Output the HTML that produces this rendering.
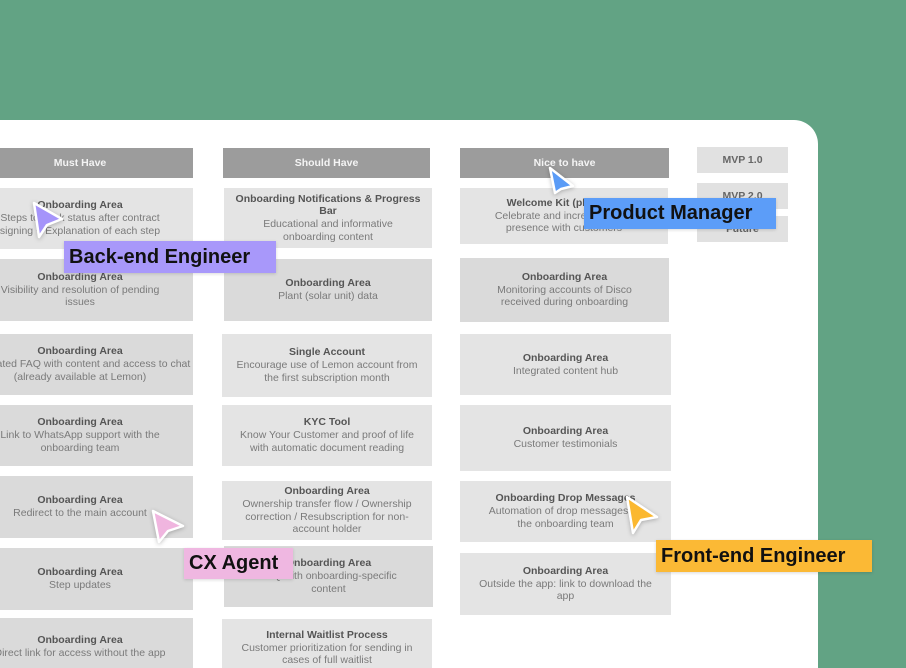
<!DOCTYPE html>
<html><head><meta charset="utf-8"><style>
*{margin:0;padding:0;box-sizing:border-box}
html,body{width:906px;height:668px;overflow:hidden}
body{background:#62a384;position:relative;font-family:"Liberation Sans",sans-serif}
.card{position:absolute;left:-40px;top:120px;width:858px;height:548px;background:#fff;border-radius:0 24px 0 0}
.h{position:absolute;background:#9c9c9c;color:#f4f4f4;font-size:10.5px;font-weight:bold;display:flex;align-items:center;justify-content:center;height:30px}
.b{position:absolute;display:flex;flex-direction:column;align-items:center;justify-content:center;text-align:center;font-size:10.5px;line-height:12.7px;color:#7a7a7a;white-space:nowrap;overflow:hidden}
.b b{color:#555}
.d{background:#dadada}.l{background:#e4e4e4}
.m{position:absolute;left:697px;width:91px;height:26px;background:#e1e1e1;color:#666;font-size:10.5px;font-weight:bold;display:flex;align-items:center;justify-content:center}
.lab{position:absolute;font-size:20px;font-weight:bold;color:#111;display:flex;align-items:center;padding-left:5px;white-space:nowrap;box-shadow:0 1px 3px rgba(0,0,0,.15)}
svg{position:absolute;overflow:visible}
</style></head><body>
<div class="card"></div>
<div class="h" style="left:-33px;width:226px;top:148px">Must Have</div>
<div class="h" style="left:223px;width:207px;top:148px">Should Have</div>
<div class="h" style="left:460px;width:209px;top:148px">Nice to have</div>
<div class="m" style="top:147px">MVP 1.0</div>
<div class="m" style="top:183px">MVP 2.0</div>
<div class="m" style="top:216px">Future</div>

<div class="b l" style="left:-33px;width:226px;top:188px;height:61px"><b>Onboarding Area</b>Steps to track status after contract<br>signing + Explanation of each step</div>
<div class="b d" style="left:-33px;width:226px;top:259px;height:62px"><b>Onboarding Area</b>Visibility and resolution of pending<br>issues</div>
<div class="b d" style="left:-33px;width:226px;top:334px;height:61px"><b>Onboarding Area</b>Integrated FAQ with content and access to chat<br>(already available at Lemon)</div>
<div class="b d" style="left:-33px;width:226px;top:405px;height:61px"><b>Onboarding Area</b>Link to WhatsApp support with the<br>onboarding team</div>
<div class="b d" style="left:-33px;width:226px;top:476px;height:62px"><b>Onboarding Area</b>Redirect to the main account</div>
<div class="b d" style="left:-33px;width:226px;top:548px;height:62px"><b>Onboarding Area</b>Step updates</div>
<div class="b d" style="left:-33px;width:226px;top:618px;height:62px;justify-content:flex-start;padding-top:16px"><b>Onboarding Area</b>Direct link for access without the app</div>

<div class="b l" style="left:224px;width:208px;top:188px;height:60px"><b>Onboarding Notifications &amp; Progress<br>Bar</b>Educational and informative<br>onboarding content</div>
<div class="b d" style="left:224px;width:208px;top:259px;height:62px"><b>Onboarding Area</b>Plant (solar unit) data</div>
<div class="b l" style="left:222px;width:210px;top:334px;height:63px"><b>Single Account</b>Encourage use of Lemon account from<br>the first subscription month</div>
<div class="b l" style="left:222px;width:210px;top:405px;height:61px"><b>KYC Tool</b>Know Your Customer and proof of life<br>with automatic document reading</div>
<div class="b l" style="left:222px;width:210px;top:481px;height:59px"><b>Onboarding Area</b>Ownership transfer flow / Ownership<br>correction / Resubscription for non-<br>account holder</div>
<div class="b d" style="left:224px;width:209px;top:546px;height:61px"><b>Onboarding Area</b>FAQ with onboarding-specific<br>content</div>
<div class="b l" style="left:222px;width:210px;top:619px;height:61px;justify-content:flex-start;padding-top:10px"><b>Internal Waitlist Process</b>Customer prioritization for sending in<br>cases of full waitlist</div>

<div class="b l" style="left:460px;width:208px;top:188px;height:56px"><b>Welcome Kit (physical)</b>Celebrate and increase brand<br>presence with customers</div>
<div class="b d" style="left:460px;width:209px;top:258px;height:64px"><b>Onboarding Area</b>Monitoring accounts of Disco<br>received during onboarding</div>
<div class="b l" style="left:460px;width:211px;top:334px;height:61px"><b>Onboarding Area</b>Integrated content hub</div>
<div class="b l" style="left:460px;width:211px;top:405px;height:66px"><b>Onboarding Area</b>Customer testimonials</div>
<div class="b l" style="left:460px;width:211px;top:481px;height:61px"><b>Onboarding Drop Messages</b>Automation of drop messages by<br>the onboarding team</div>
<div class="b l" style="left:460px;width:211px;top:553px;height:62px"><b>Onboarding Area</b>Outside the app: link to download the<br>app</div>

<svg style="left:0;top:0" width="906" height="668">
<g stroke="#fff" stroke-width="2.5" stroke-linejoin="round" style="filter:drop-shadow(0 1px 2px rgba(0,0,0,.25))">
<polygon points="34,203 62,219 47,225 39,237" fill="#a594fa"/>
<polygon points="550,168 573,186 561,189 555,193" fill="#5a9bf6"/>
<polygon points="153,511 183,526 168,531 159,542" fill="#f0b5df"/>
<polygon points="627,497 657,517 641,520 633,533" fill="#fbb830"/>
</g>
</svg>
<div class="lab" style="left:64px;top:241px;width:212px;height:32px;background:#a898fa">Back-end Engineer</div>
<div class="lab" style="left:584px;top:198px;width:192px;height:31px;background:#5c9df8">Product Manager</div>
<div class="lab" style="left:184px;top:548px;width:109px;height:31px;background:#efb7e1">CX Agent</div>
<div class="lab" style="left:656px;top:540px;width:216px;height:32px;background:#fbb935">Front-end Engineer</div>
</body></html>
